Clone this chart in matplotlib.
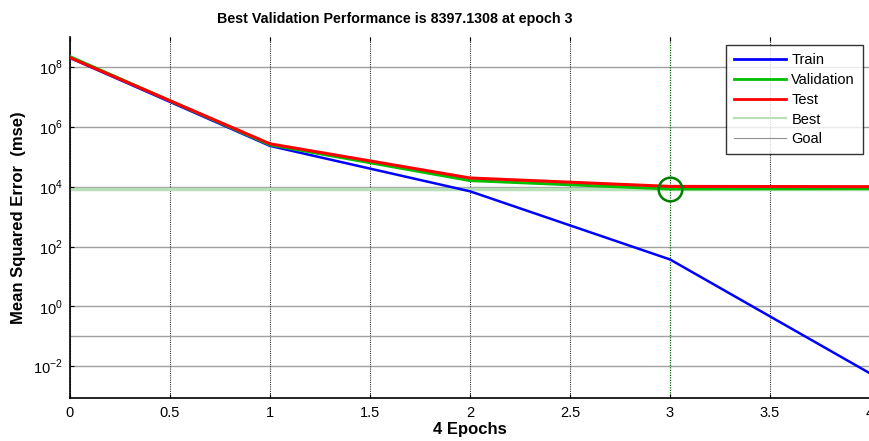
import numpy as np
import matplotlib
matplotlib.use("Agg")
import matplotlib.pyplot as plt
from matplotlib.lines import Line2D

plt.rcParams['font.family'] = ['Liberation Sans', 'DejaVu Sans']
plt.rcParams['mathtext.fontset'] = 'custom'
plt.rcParams['mathtext.rm'] = 'Liberation Sans'

# values
epochs = [0, 1, 2, 3, 4]
train = [2.0e8, 2.3e5, 7.0e3, 37.0, 0.0058]
validation = [2.2e8, 2.5e5, 1.6e4, 8397.1308, 8.6e3]
test = [2.05e8, 2.7e5, 1.95e4, 1.02e4, 1.0e4]
best_epoch = 3
best_perf = 8397.1308
goal = 0.1

x_ticks = [0, 0.5, 1, 1.5, 2, 2.5, 3, 3.5, 4]
x_tick_labels = ['0', '0.5', '1', '1.5', '2', '2.5', '3', '3.5', '4']
y_ticks = [1e-2, 1e0, 1e2, 1e4, 1e6, 1e8]
y_tick_labels = ['$10^{-2}$', '$10^{0}$', '$10^{2}$', '$10^{4}$', '$10^{6}$', '$10^{8}$']

W, H = 869, 441
fig = plt.figure(figsize=(W / 100, H / 100), dpi=100)
ax = fig.add_axes([70 / W, (H - 398) / H, 800 / W, 361 / H])

ax.set_yscale('log')
ax.set_xlim(0, 4)
ax.set_ylim(8.7e-4, 1e9)

# grid: gray horizontal, dotted vertical
for yv in y_ticks:
    ax.axhline(yv, color='#a0a0a0', lw=1.0, zorder=0)
for xv in x_ticks:
    if xv != best_epoch:
        ax.axvline(xv, color='#333333', lw=0.8, ls=(0, (1, 1)), zorder=0)

# goal and best lines
ax.axhline(goal, color='#a0a0a0', lw=1.0, zorder=1)
ax.axhline(best_perf, color='#b8e0b8', lw=2.5, zorder=1)
ax.axvline(best_epoch, color='#006600', lw=0.9, ls=(0, (1, 1)), zorder=1)

ax.plot(epochs, train, color='#0000ff', lw=1.8, zorder=3)
ax.plot(epochs, validation, color='#00c000', lw=2.2, zorder=3)
ax.plot(epochs, test, color='#ff0000', lw=2.2, zorder=3)
ax.plot([best_epoch], [best_perf], 'o', ms=17, mfc='none', mec='#008000', mew=1.8, zorder=4)

ax.set_xticks(x_ticks)
ax.set_xticklabels(x_tick_labels, fontsize=10.5)
ax.set_yticks(y_ticks)
ax.set_yticklabels(y_tick_labels, fontsize=10.5)
ax.minorticks_off()
ax.tick_params(direction='in', length=3, width=0.8, top=True, right=False, pad=6)
ax.tick_params(axis='y', pad=5)

ax.spines['top'].set_visible(False)
ax.spines['right'].set_visible(False)
ax.spines['left'].set_linewidth(1.2)
ax.spines['bottom'].set_linewidth(1.2)

ax.set_xlabel('4 Epochs', fontsize=12, fontweight='bold')
ax.xaxis.set_label_coords(0.5, -0.066)
ax.set_ylabel('Mean Squared Error  (mse)', fontsize=12, fontweight='bold')
ax.yaxis.set_label_coords(-0.055, 0.5)

fig.text(394.5 / W, 1 - 19 / H, 'Best Validation Performance is 8397.1308 at epoch 3',
         ha='center', va='center', fontsize=10.3, fontweight='bold')

handles = [
    Line2D([], [], color='#0000ff', lw=2),
    Line2D([], [], color='#00c000', lw=2),
    Line2D([], [], color='#ff0000', lw=2),
    Line2D([], [], color='#b8e0b8', lw=1.5),
    Line2D([], [], color='#909090', lw=0.8),
]
leg = ax.legend(handles, ['Train', 'Validation', 'Test', 'Best', 'Goal'],
                loc='upper right', bbox_to_anchor=(863 / W, 1 - 45 / H),
                bbox_transform=fig.transFigure, fontsize=10.5, frameon=True,
                fancybox=False, edgecolor='black', handlelength=3.5,
                handletextpad=0.4, labelspacing=0.4, borderpad=0.55,
                borderaxespad=0)
leg.get_frame().set_linewidth(1.0)

fig.savefig('out.png', dpi=100)
